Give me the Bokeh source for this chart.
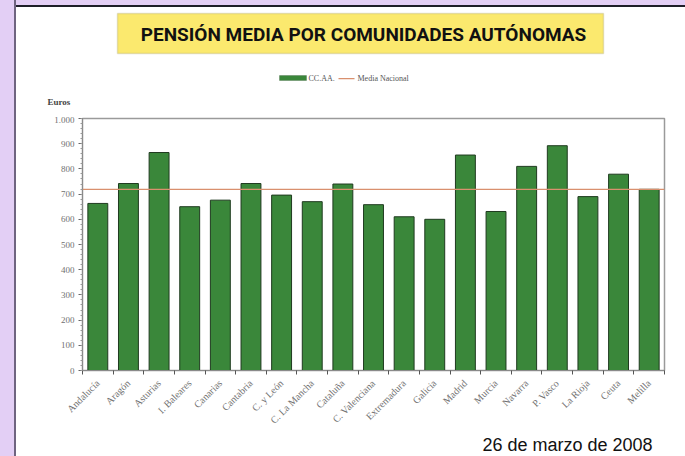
import math
from bokeh.plotting import figure
from bokeh.layouts import column
from bokeh.models import (Range1d, FixedTicker, ColumnDataSource, Title,
                          Label, BoxAnnotation)
from bokeh.embed import file_html
from bokeh.resources import INLINE

# ---- data ----
categories = ["Andalucía", "Aragón", "Asturias", "I. Baleares", "Canarias",
              "Cantabria", "C. y León", "C. La Mancha", "Cataluña",
              "C. Valenciana", "Extremadura", "Galicia", "Madrid", "Murcia",
              "Navarra", "P. Vasco", "La Rioja", "Ceuta", "Melilla"]
values = [663, 742, 865, 650, 676, 742, 696, 670, 740, 658, 610, 600, 855,
          631, 810, 892, 690, 779, 719]
media_nacional = 719
y_ticks = [0, 100, 200, 300, 400, 500, 600, 700, 800, 900, 1000]
y_tick_labels = ["0", "100", "200", "300", "400", "500", "600", "700", "800",
                 "900", "1.000"]
title_text = "PENSIÓN MEDIA POR COMUNIDADES AUTÓNOMAS"
date_text = "26 de marzo de 2008"
unit_text = "Euros"
series_name = "CC.AA."
line_name = "Media Nacional"

n = len(categories)
centers = [i + 0.5 for i in range(n)]
src = ColumnDataSource(dict(x=centers, top=values))

W = 685
TOP_H = 116
MAIN_H = 456 - TOP_H
AX = "#8a8a8a"
SERIF = "Liberation Serif"
BAR_FILL = "#3A873A"
BAR_LINE = "#1F3A1F"
MEAN_COLOR = "#D9906E"

# ---------------- header figure (title, legend, unit) ----------------
h = figure(width=W, height=TOP_H, output_backend="svg", toolbar_location=None,
           x_range=Range1d(0, W), y_range=Range1d(TOP_H, 0),
           x_axis_location=None, y_axis_location=None,
           min_border=0, min_border_left=0, min_border_right=0,
           min_border_top=0, min_border_bottom=0)
try:
    h.frame_align = False
except Exception:
    pass
h.background_fill_alpha = 0
h.border_fill_alpha = 0
h.outline_line_color = None
h.grid.visible = False

h.add_layout(BoxAnnotation(left=117, right=603, top=13, bottom=53,
                           fill_color="#FBE96E", fill_alpha=1,
                           line_color="#A89F6A", line_width=1.5))
h.add_layout(Label(x=363, y=34, text=title_text, text_align="center",
                   text_baseline="middle", text_font="Roboto",
                   text_font_style="bold", text_font_size="19px",
                   text_color="#111111"))
h.add_layout(Label(x=47, y=101, text=unit_text, text_baseline="middle",
                   text_font=SERIF, text_font_style="bold",
                   text_font_size="9px", text_color="#444444"))

# legend (swatches + labels)
h.add_layout(BoxAnnotation(left=279, right=306, top=75, bottom=80,
                           fill_color=BAR_FILL, fill_alpha=1,
                           line_color=BAR_LINE, line_width=0.8))
h.add_layout(Label(x=308, y=78, text=series_name, text_baseline="middle",
                   text_font=SERIF, text_font_size="8px",
                   text_color="#555555"))
h.add_layout(BoxAnnotation(left=338, right=354, top=77.5, bottom=78.7,
                           fill_color=MEAN_COLOR, fill_alpha=1,
                           line_color=None))
h.add_layout(Label(x=357, y=78, text=line_name, text_baseline="middle",
                   text_font=SERIF, text_font_size="8px",
                   text_color="#555555"))

# ---------------- main chart ----------------
p = figure(width=W, height=MAIN_H, output_backend="svg", toolbar_location=None,
           x_range=Range1d(0, n), y_range=Range1d(0, 1000),
           min_border_left=82, min_border_right=21, min_border_top=2,
           min_border_bottom=86)
p.border_fill_alpha = 0
p.background_fill_color = "white"
p.outline_line_color = "#9a9a9a"
p.outline_line_width = 1.5
p.grid.visible = False

p.vbar(x="x", top="top", width=0.65, source=src, fill_color=BAR_FILL,
       line_color=BAR_LINE, line_width=1)
p.line(x=[0, n], y=[media_nacional, media_nacional],
       line_color=MEAN_COLOR, line_width=1.2)

p.add_layout(Title(text=date_text, align="left", offset=400, standoff=0,
                   text_font="Liberation Sans", text_font_style="normal",
                   text_font_size="18px", text_color="#111111"), "below")

xa = p.xaxis[0]
xa.ticker = FixedTicker(ticks=centers, minor_ticks=list(range(n + 1)))
xa.major_label_overrides = {c: name for c, name in zip(centers, categories)}
xa.major_tick_out = 0
xa.major_tick_in = 0
xa.minor_tick_out = 4
xa.minor_tick_in = 0
xa.minor_tick_line_color = "#555555"
xa.axis_line_color = AX
xa.major_label_orientation = math.pi / 4
xa.major_label_standoff = 7
xa.major_label_text_font = SERIF
xa.major_label_text_font_size = "10px"
xa.major_label_text_color = "#707070"

ya = p.yaxis[0]
ya.ticker = FixedTicker(ticks=y_ticks, minor_ticks=list(range(0, 1001, 20)))
ya.major_label_overrides = {t: l for t, l in zip(y_ticks, y_tick_labels)}
ya.major_tick_out = 4
ya.major_tick_in = 0
ya.minor_tick_out = 2
ya.minor_tick_in = 0
ya.major_tick_line_color = "#666666"
ya.minor_tick_line_color = "#999999"
ya.axis_line_color = AX
ya.major_label_standoff = 4
ya.major_label_text_font = SERIF
ya.major_label_text_font_size = "9px"
ya.major_label_text_color = "#707070"

layout = column(h, p, spacing=0, styles={
    "background": "linear-gradient(to right, #E3CFF5 0px, #E3CFF5 14px, #6F6480 14px, #6F6480 16px, transparent 16px), linear-gradient(to bottom, #E3CFF5 0px, #E3CFF5 5px, #1e1e28 5px, #1e1e28 7px, white 7px)"})

open("out.html", "w").write(file_html(layout, INLINE))
